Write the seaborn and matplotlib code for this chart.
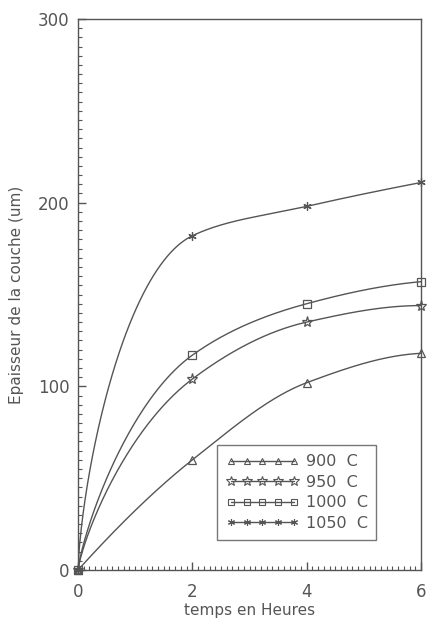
import numpy as np
import pandas as pd
import matplotlib
matplotlib.use("Agg")
import matplotlib.pyplot as plt
from matplotlib.lines import Line2D
from matplotlib.ticker import MultipleLocator
import seaborn as sns

sns.set_style("white")
plt.rcParams['font.family'] = ['DejaVu Sans']

# data
times = [0, 2, 4, 6]
temps_labels = ["900  C", "950  C", "1000  C", "1050  C"]
y900 = [0, 60, 102, 118]
y950 = [0, 104, 135, 144]
y1000 = [0, 117, 145, 157]
y1050 = [0, 182, 198, 211]
series = [y900, y950, y1000, y1050]
markers = ["^", "*", "s", (6, 2, 0)]
msizes = [6, 8, 6, 6]
powers = [1.0, 0.8, 0.8, 0.7]  # curve-drawing shape only

ink = "#555555"


def pchip(x, y, xn):
    x = np.asarray(x, float); y = np.asarray(y, float)
    h = np.diff(x); d = np.diff(y) / h
    m = np.zeros_like(y)
    for k in range(1, len(x) - 1):
        if d[k - 1] * d[k] > 0:
            w1 = 2 * h[k] + h[k - 1]; w2 = h[k] + 2 * h[k - 1]
            m[k] = (w1 + w2) / (w1 / d[k - 1] + w2 / d[k])
    m[0] = max(0.0, ((2 * h[0] + h[1]) * d[0] - h[0] * d[1]) / (h[0] + h[1]))
    m[-1] = max(0.0, ((2 * h[-1] + h[-2]) * d[-1] - h[-1] * d[-2]) / (h[-1] + h[-2]))
    idx = np.clip(np.searchsorted(x, xn) - 1, 0, len(x) - 2)
    t = (xn - x[idx]) / h[idx]
    h00 = 2 * t**3 - 3 * t**2 + 1; h10 = t**3 - 2 * t**2 + t
    h01 = -2 * t**3 + 3 * t**2; h11 = t**3 - t**2
    return h00 * y[idx] + h10 * h[idx] * m[idx] + h01 * y[idx + 1] + h11 * h[idx] * m[idx + 1]


fig = plt.figure(figsize=(4.31, 6.23), dpi=100)
ax = fig.add_axes([0.181, 0.085, 0.796, 0.8845])

rows = []
tt = np.linspace(0, 6, 400)
for lab, ys, p in zip(temps_labels, series, powers):
    s = np.array(times, dtype=float) ** p
    yy = pchip(s, ys, tt ** p)
    rows.append(pd.DataFrame({"t": tt, "y": yy, "serie": lab}))
curves = pd.concat(rows)
pts = pd.DataFrame({"t": np.tile(times, 4), "y": np.concatenate(series),
                    "serie": np.repeat(temps_labels, len(times))})

for lab, m, ms in zip(temps_labels, markers, msizes):
    sns.lineplot(data=curves[curves.serie == lab], x="t", y="y", ax=ax,
                 color=ink, lw=1.0, legend=False)
    d = pts[pts.serie == lab]
    ax.plot(d.t, d.y, ls="none", marker=m, ms=ms, mfc="none", mec=ink, mew=0.9,
            clip_on=False)

ax.set_xlim(0, 6)
ax.set_ylim(0, 300)
ax.xaxis.set_major_locator(MultipleLocator(2))
ax.xaxis.set_minor_locator(MultipleLocator(0.1))
ax.yaxis.set_major_locator(MultipleLocator(100))
ax.yaxis.set_minor_locator(MultipleLocator(5))
ax.tick_params(which="major", direction="in", length=6, color=ink, labelcolor=ink,
               labelsize=12, width=1)
ax.tick_params(axis="x", which="major", pad=9)
ax.tick_params(axis="y", which="major", pad=6)
ax.tick_params(which="minor", direction="in", length=3, color=ink, width=0.8)
ax.tick_params(axis="y", which="both", left=True)
ax.tick_params(axis="x", which="both", bottom=True)
for sp in ax.spines.values():
    sp.set_color(ink)
    sp.set_linewidth(1.0)
ax.set_xlabel("temps en Heures", color=ink, fontsize=11, labelpad=2)
ax.set_ylabel("Epaisseur de la couche (um)", color=ink, fontsize=11, labelpad=10)

handles = [Line2D([0], [0], color=ink, lw=1.0, marker=m, ms=ms - 1, mfc="none",
                  mec=ink, mew=0.8) for m, ms in zip(markers, msizes)]
leg = ax.legend(handles, temps_labels, loc="lower left", bbox_to_anchor=(0.405, 0.055),
                numpoints=5, handlelength=4.6, handletextpad=0.4, labelspacing=0.35,
                fontsize=11.5, frameon=True, fancybox=False, borderpad=0.55,
                labelcolor=ink, borderaxespad=0)
leg.get_frame().set_edgecolor(ink)
leg.get_frame().set_linewidth(1.0)

fig.savefig("out.png", dpi=100)
